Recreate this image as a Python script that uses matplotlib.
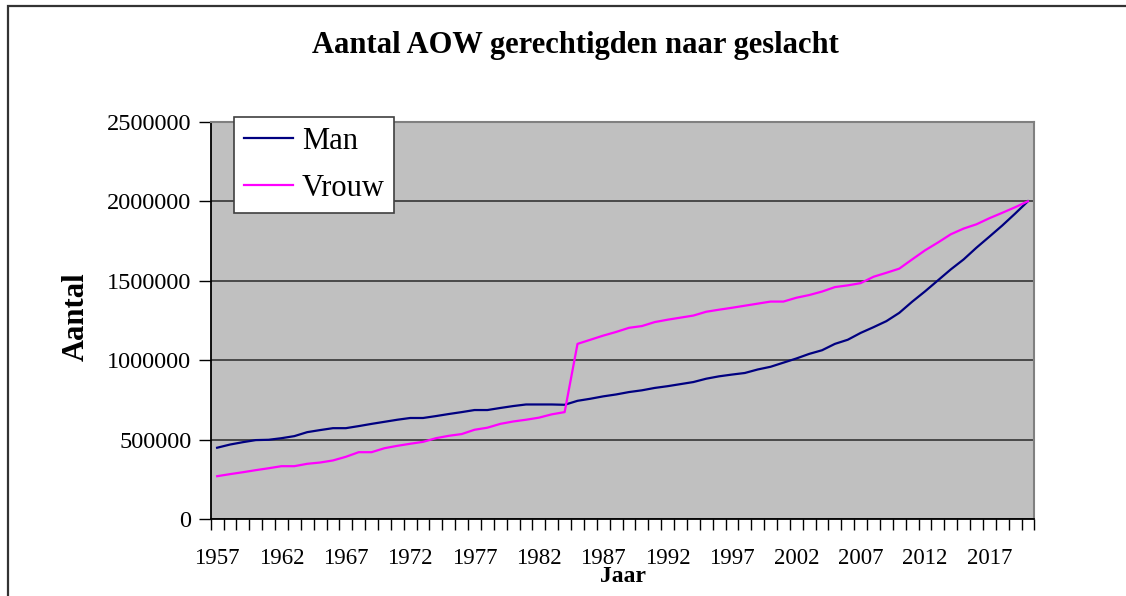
import matplotlib
matplotlib.use("Agg")
import matplotlib.pyplot as plt
from matplotlib.patches import Rectangle

# data (in thousands)
years = list(range(1957, 2021))
man = [450, 470, 485, 498, 500, 510, 523, 548, 561, 573,
       573, 586, 600, 613, 626, 637, 637, 649, 662, 674,
       687, 687, 700, 712, 722, 722, 722, 720, 745, 758,
       773, 785, 800, 811, 826, 837, 850, 863, 884, 899,
       910, 920, 942, 959, 985, 1011, 1040, 1063, 1103, 1129,
       1172, 1208, 1246, 1298, 1368, 1433, 1502, 1571, 1634, 1708,
       1777, 1847, 1922, 2000]
vrouw = [271, 284, 296, 309, 321, 334, 334, 349, 357, 370,
         393, 422, 422, 447, 462, 475, 487, 510, 525, 536,
         563, 576, 600, 615, 626, 639, 660, 674, 1103, 1129,
         1155, 1178, 1204, 1215, 1240, 1255, 1268, 1281, 1305, 1318,
         1330, 1343, 1356, 1369, 1369, 1393, 1410, 1432, 1460, 1471,
         1485, 1525, 1550, 1576, 1634, 1691, 1740, 1792, 1828, 1855,
         1893, 1927, 1962, 2000]
yticks = [0, 500000, 1000000, 1500000, 2000000, 2500000]

serif = ["Liberation Serif", "DejaVu Serif"]
plt.rcParams["font.family"] = serif

W, H = 1126, 596
fig = plt.figure(figsize=(W / 100, H / 100), dpi=100)
ax = fig.add_axes([210.7 / W, 1 - 519.3 / H, (1034.4 - 210.7) / W, (519.3 - 121.7) / H])
ax.set_facecolor("#C0C0C0")

x = list(range(len(years)))
ax.plot(x, [v * 1000 for v in man], color="#000080", lw=1.6, label="Man")
ax.plot(x, [v * 1000 for v in vrouw], color="#FF00FF", lw=1.6, label="Vrouw")

ax.set_xlim(-0.5, len(years) - 0.5)
ax.set_ylim(0, 2500000)
ax.set_yticks(yticks)
ax.set_yticklabels([str(v) for v in yticks])
ax.yaxis.grid(True, color="#404040", lw=1.3)
ax.set_axisbelow(True)

ax.set_xticks(x[::5])
ax.set_xticklabels([str(y) for y in years[::5]])
ax.set_xticks([i - 0.5 for i in range(len(years) + 1)], minor=True)
ax.tick_params(axis="x", which="major", length=0, pad=21, labelsize=16.5)
ax.tick_params(axis="x", which="minor", length=8, width=1, color="black")
ax.tick_params(axis="y", length=9, width=1, pad=5, labelsize=17.5)

for s in ["left", "bottom"]:
    ax.spines[s].set_color("black")
    ax.spines[s].set_linewidth(1.3)
for s in ["top", "right"]:
    ax.spines[s].set_color("#808080")
    ax.spines[s].set_linewidth(1.5)

leg = ax.legend(loc="upper left", bbox_to_anchor=(234 / W, 1 - 117 / H),
                bbox_transform=fig.transFigure, borderaxespad=0,
                fontsize=22, handlelength=1.6, handletextpad=0.3,
                labelspacing=0.6, borderpad=0.32, fancybox=False,
                framealpha=1, edgecolor="#404040")
leg.get_frame().set_linewidth(1.2)

fig.text(575 / W, 1 - 53.3 / H, "Aantal AOW gerechtigden naar geslacht",
         ha="center", va="baseline", fontsize=22, fontweight="bold")
fig.text(76 / W, 1 - 317 / H, "Aantal", rotation=90, ha="center", va="center",
         fontsize=22, fontweight="bold")
fig.text(623 / W, 1 - 577 / H, "Jaar", ha="center", va="center",
         fontsize=17, fontweight="bold")

# outer chart border, cut off at right and bottom like the reference
fig.patches.append(Rectangle((8 / W, -0.1), 1.2, 1 - 5.5 / H + 0.1,
                             transform=fig.transFigure, fill=False,
                             edgecolor="#333333", lw=1.6))

fig.savefig("out.png", dpi=100)
